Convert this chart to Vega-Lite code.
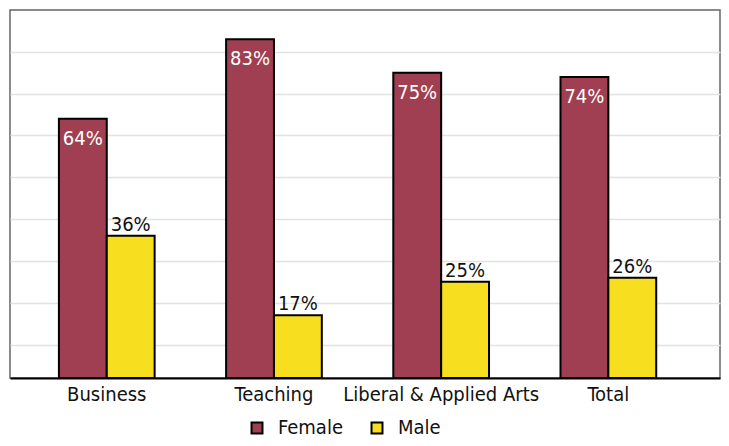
{
  "$schema": "https://vega.github.io/schema/vega-lite/v6.json",
  "autosize": {"type": "none"},
  "padding": {"left": 10, "top": 10, "right": 9, "bottom": 68},
  "width": 710,
  "height": 368,
  "config": {
    "font": "DejaVu Sans Condensed",
    "view": {"stroke": "#666666", "strokeWidth": 1.5}
  },
  "data": {
    "values": [
      {"category": "Business", "gender": "Female", "value": 0.64},
      {"category": "Business", "gender": "Male", "value": 0.36},
      {"category": "Teaching", "gender": "Female", "value": 0.83},
      {"category": "Teaching", "gender": "Male", "value": 0.17},
      {"category": "Liberal & Applied Arts", "gender": "Female", "value": 0.75},
      {"category": "Liberal & Applied Arts", "gender": "Male", "value": 0.25},
      {"category": "Total", "gender": "Female", "value": 0.74},
      {"category": "Total", "gender": "Male", "value": 0.26}
    ]
  },
  "encoding": {
    "x": {
      "field": "category",
      "type": "nominal",
      "sort": null,
      "scale": {"paddingInner": 0.4275, "paddingOuter": 0.337, "align": 0.434},
      "axis": {
        "title": null,
        "labelAngle": 0,
        "labelFontSize": 20,
        "labelColor": "#111111",
        "labelPadding": 6,
        "labelBaseline": "top",
        "labelLimit": 300,
        "ticks": false,
        "domainColor": "#000000",
        "domainWidth": 2
      }
    },
    "xOffset": {"field": "gender", "type": "nominal", "scale": {"domain": ["Female", "Male"], "paddingInner": 0, "paddingOuter": 0}},
    "y": {
      "field": "value",
      "type": "quantitative",
      "scale": {"domain": [0.02, 0.9], "nice": false, "zero": false},
      "axis": {
        "title": null,
        "labels": false,
        "ticks": false,
        "domain": false,
        "values": [0.1, 0.2, 0.3, 0.4, 0.5, 0.6, 0.7, 0.8],
        "gridColor": "#e2e2e2",
        "gridWidth": 1.5
      }
    }
  },
  "layer": [
    {
      "mark": {"type": "bar", "stroke": "#000000", "strokeWidth": 2},
      "encoding": {
        "y2": {"datum": 0.02},
        "color": {
          "field": "gender",
          "type": "nominal",
          "scale": {"domain": ["Female", "Male"], "range": ["#9F3F51", "#F7DF1F"]},
          "legend": {
            "title": null,
            "orient": "none",
            "direction": "horizontal",
            "legendX": 237,
            "legendY": 408,
            "padding": 0,
            "symbolType": "square",
            "symbolSize": 120,
            "symbolStrokeColor": "#000000",
            "symbolStrokeWidth": 2,
            "symbolOpacity": 1,
            "labelFontSize": 20,
            "labelColor": "#111111",
            "labelOffset": 11,
            "columnPadding": 24
          }
        }
      }
    },
    {
      "transform": [{"filter": "datum.gender == 'Female'"}],
      "mark": {"type": "text", "color": "#ffffff", "fontSize": 20, "baseline": "alphabetic", "dy": 26},
      "encoding": {"text": {"field": "value", "type": "quantitative", "format": ".0%"}}
    },
    {
      "transform": [{"filter": "datum.gender == 'Male'"}],
      "mark": {"type": "text", "color": "#111111", "fontSize": 20, "baseline": "alphabetic", "dy": -5},
      "encoding": {"text": {"field": "value", "type": "quantitative", "format": ".0%"}}
    }
  ]
}
